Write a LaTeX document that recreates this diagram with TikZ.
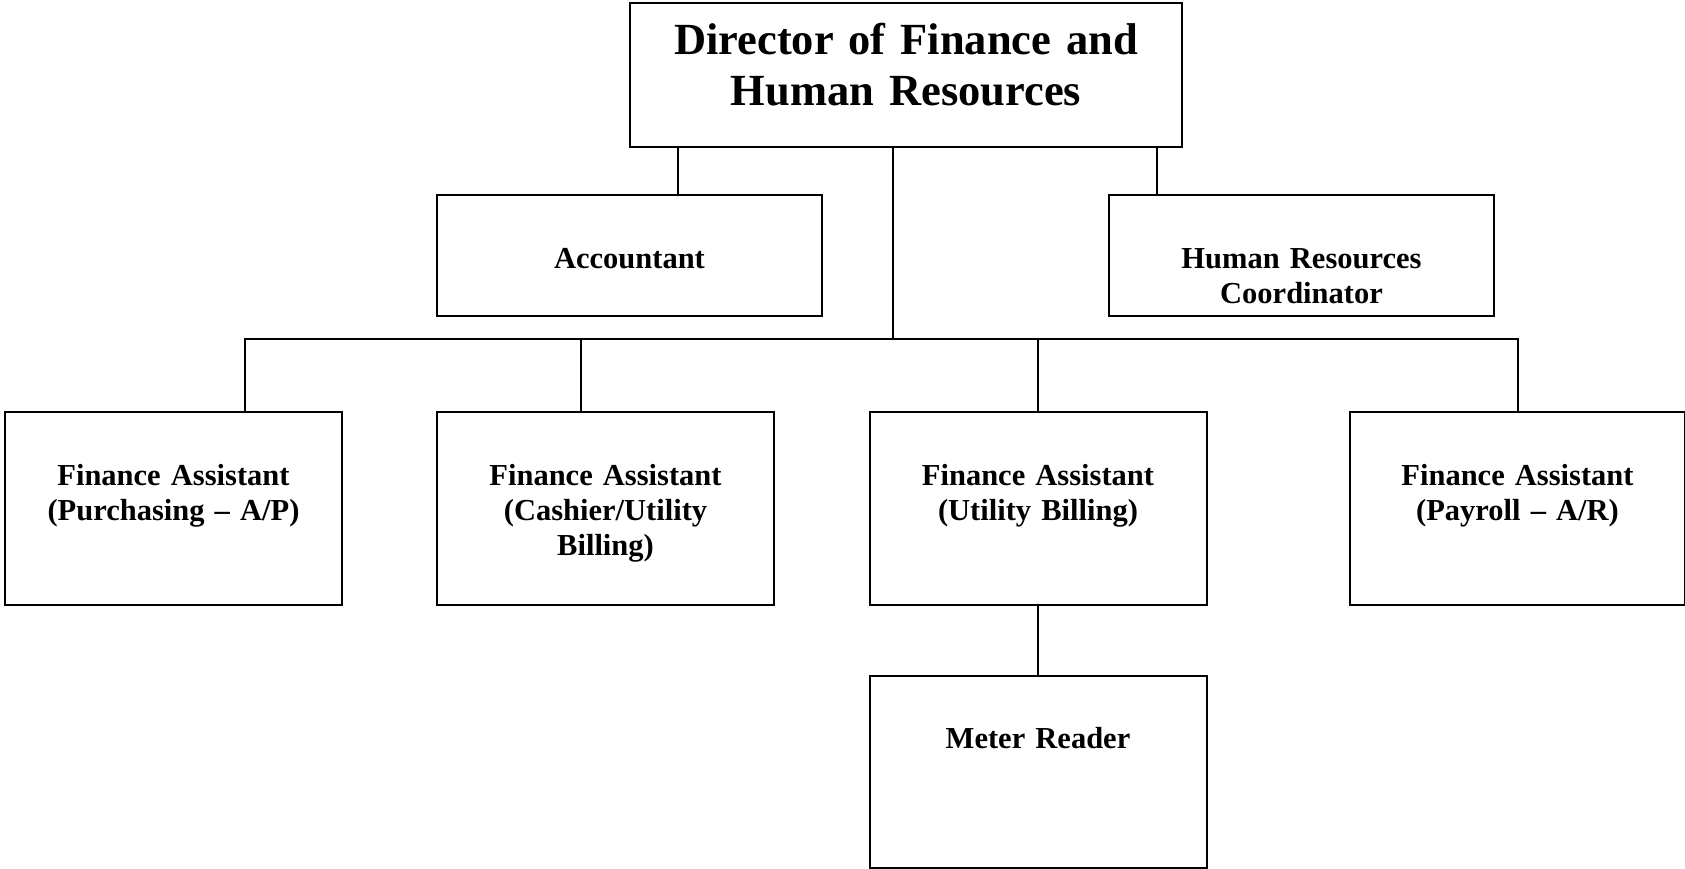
\documentclass[tikz,border=0pt]{standalone}
\usepackage{fontspec}
\setmainfont{Liberation Serif}
\begin{document}
\begin{tikzpicture}[x=1pt,y=-1pt,
  box/.style={draw=black,line width=2pt,fill=white,inner sep=0pt,anchor=north west},
  lbl/.style={inner sep=0pt,anchor=base,text width=330pt,align=center,
    font=\fontsize{30.5}{35}\selectfont\bfseries},
  biglbl/.style={inner sep=0pt,anchor=base,text width=540pt,align=center,
    font=\fontsize{44.5}{51}\selectfont\bfseries},
  link/.style={draw=black,line width=2pt}]
\useasboundingbox (0,0) rectangle (1685,868);
% boxes
\node[box,minimum width=552pt,minimum height=144pt] (dir) at (629,2) {};
\node[box,minimum width=385pt,minimum height=121pt] (acc) at (436,194) {};
\node[box,minimum width=385pt,minimum height=121pt] (hr) at (1108,194) {};
\node[box,minimum width=337pt,minimum height=193pt] (fa1) at (4,410.5) {};
\node[box,minimum width=337pt,minimum height=193pt] (fa2) at (436,410.5) {};
\node[box,minimum width=337pt,minimum height=193pt] (fa3) at (868.5,410.5) {};
\node[box,minimum width=335pt,minimum height=193pt] (fa4) at (1349,410.5) {};
\node[box,minimum width=337pt,minimum height=192pt] (mr) at (868.5,675) {};
% texts
\node[biglbl] (dirt) at (dir.north |- 0,54) {Director of Finance and\\Human Resources};
\node[lbl] (acct) at (acc.north |- 0,268.5) {Accountant};
\node[lbl] (hrt) at (hr.north |- 0,268.5) {Human Resources\\Coordinator};
\node[lbl] (fa1t) at (fa1.north |- 0,485) {Finance Assistant\\(Purchasing -- A/P)};
\node[lbl] (fa2t) at (fa2.north |- 0,485) {Finance Assistant\\(Cashier/Utility\\Billing)};
\node[lbl] (fa3t) at (fa3.north |- 0,485) {Finance Assistant\\(Utility Billing)};
\node[lbl] (fa4t) at (fa4.north |- 0,485) {Finance Assistant\\(Payroll -- A/R)};
\node[lbl] (mrt) at (mr.north |- 0,748) {Meter Reader};
% connector columns
\coordinate (kacc) at (677.5,0);
\coordinate (khr) at (1156.5,0);
\coordinate (kmid) at (893,0);
\coordinate (bus) at (0,338.5);
\coordinate (k1) at (245,0);
\coordinate (k2) at (580.5,0);
% connectors
\draw[link] (dir.south -| kacc) -- (acc.north -| kacc);
\draw[link] (dir.south -| khr) -- (hr.north -| khr);
\draw[link] (dir.south -| kmid) -- (bus -| kmid);
\draw[link] (fa1.north -| k1) -- (bus -| k1) -- (bus -| fa4.north) -- (fa4.north);
\draw[link] (fa2.north -| k2) -- (bus -| k2);
\draw[link] (fa3.north) -- (bus -| fa3.north);
\draw[link] (fa3.south) -- (mr.north);
\end{tikzpicture}
\end{document}
